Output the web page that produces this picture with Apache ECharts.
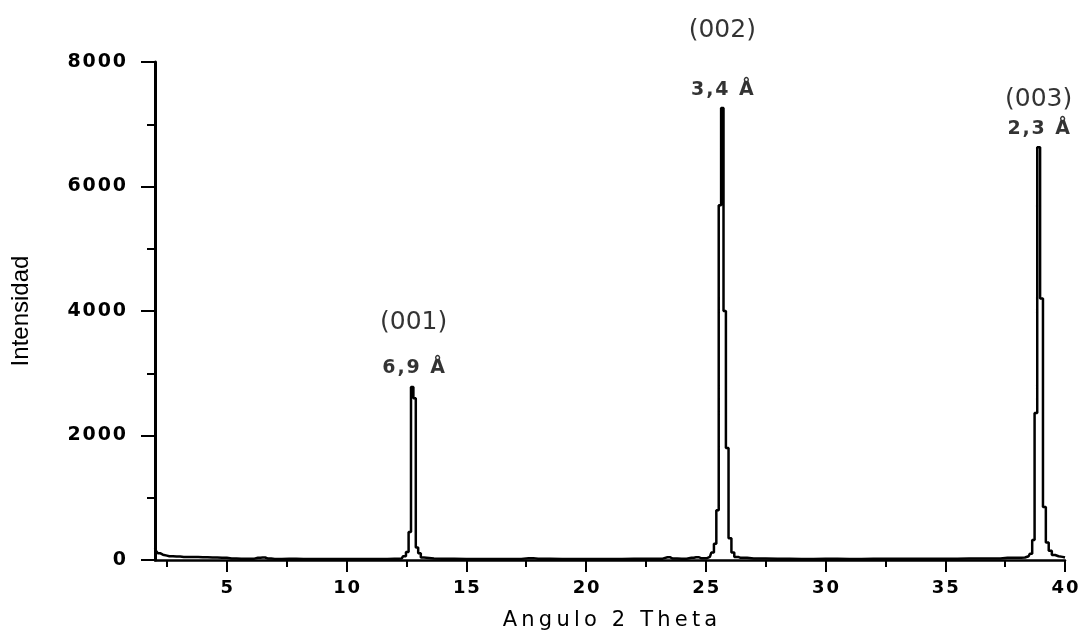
<!DOCTYPE html>
<html>
<head>
    <meta charset="utf-8">
    <title>Difractograma</title>
    <script src="https://cdn.jsdelivr.net/npm/echarts@6/dist/echarts.min.js"></script>
    <style>
        html, body { margin: 0; padding: 0; background: #fff; }
        #main { width: 1078px; height: 635px; }
    </style>
</head>
<body>
<div id="main"></div>
<script type="text/javascript">
    var angulo = [
        2.00, 2.08, 2.16, 2.26, 2.40, 2.60, 2.90, 3.20, 3.60, 4.00, 4.40, 4.80, 5.20, 5.60, 6.00, 6.30, 6.50, 6.70, 7.00, 7.60,
        8.20, 9.00, 9.80, 10.60, 11.40, 12.00, 12.30, 12.42, 12.54, 12.64, 12.74, 12.84, 12.94, 13.04, 13.16, 13.30,
        14.00, 15.00, 16.00, 17.00, 17.60, 18.00, 19.00, 20.00, 21.00, 22.00, 23.00, 23.40, 23.60, 24.00, 24.40, 24.60,
        24.80, 25.05, 25.17, 25.29, 25.39, 25.49, 25.59, 25.69, 25.79, 25.89, 26.01, 26.13, 26.25, 26.45, 27.00, 28.00,
        29.00, 30.00, 31.00, 32.00, 33.00, 34.00, 35.00, 36.00, 37.00, 37.60, 38.00, 38.33, 38.48, 38.58, 38.68, 38.78,
        38.90, 39.02, 39.14, 39.26, 39.38, 39.52, 39.66, 39.80, 40.00
    ];
    var intensidad = [
        200, 150, 110, 85, 70, 60, 55, 50, 48, 45, 40, 35, 25, 20, 22, 35, 40, 25, 18, 20,
        18, 15, 18, 15, 18, 20, 25, 60, 130, 450, 2780, 2600, 200, 110, 40, 25,
        20, 18, 15, 18, 30, 20, 15, 18, 18, 20, 22, 45, 25, 20, 35, 45,
        30, 30, 50, 120, 260, 800, 5700, 7260, 4000, 1800, 350, 120, 50, 35, 25, 20,
        18, 20, 18, 20, 22, 20, 22, 25, 25, 35, 35, 40, 60, 100, 320, 2360,
        6630, 4200, 850, 280, 150, 80, 60, 50, 40
    ];

    // reflexiones basales
    var picoAngulo = [12.8, 25.69, 38.9];
    var picoAltura = [2780, 7260, 6630];
    var hklY = [3820, 8510, 7400];
    var indices = ['(001)', '(002)', '(003)'];
    var espaciado = ['6,9 Å', '3,4 Å', '2,3 Å'];

    var ticksX = [5, 10, 15, 20, 25, 30, 35, 40];
    var ticksMenoresX = [2.5, 7.5, 12.5, 17.5, 22.5, 27.5, 32.5, 37.5];

    function espaciar(s, sep) {
        return String(s).split('').join(sep || '\u200A');
    }

    var myChart = echarts.init(document.getElementById('main'));

    var option = {
        animation: false,
        backgroundColor: '#fff',
        grid: {
            left: 155,
            right: 13,
            top: 62,
            bottom: 75,
            outerBoundsMode: 'none'
        },
        xAxis: [{
            type: 'value',
            min: 2,
            max: 40,
            name: espaciar('Angulo 2 Theta', '\u2009'),
            nameLocation: 'middle',
            nameGap: 50,
            nameTextStyle: { fontFamily: 'DejaVu Sans', fontSize: 21, color: '#000' },
            splitLine: { show: false },
            axisLine: { lineStyle: { color: '#000', width: 2.5 } },
            axisTick: { customValues: ticksX, length: 12, lineStyle: { color: '#000', width: 2 } },
            axisLabel: {
                customValues: ticksX,
                margin: 19,
                fontFamily: 'DejaVu Sans',
                fontWeight: 'bold',
                fontSize: 18,
                color: '#000',
                formatter: function (v) { return espaciar(v); }
            }
        }, {
            type: 'value',
            min: 2,
            max: 40,
            position: 'bottom',
            splitLine: { show: false },
            axisLine: { show: false },
            axisTick: { customValues: ticksMenoresX, length: 7, lineStyle: { color: '#000', width: 2 } },
            axisLabel: { show: false }
        }],
        yAxis: {
            type: 'value',
            min: 0,
            max: 8000,
            interval: 2000,
            name: 'Intensidad',
            nameLocation: 'middle',
            nameGap: 122,
            nameTextStyle: { fontFamily: 'Liberation Sans Narrow, Liberation Sans', fontSize: 24, color: '#000' },
            splitLine: { show: false },
            axisLine: { show: true, lineStyle: { color: '#000', width: 3 } },
            axisTick: { show: true, length: 14, lineStyle: { color: '#000', width: 2 } },
            minorTick: { show: true, splitNumber: 2, length: 8, lineStyle: { color: '#000', width: 2 } },
            axisLabel: {
                margin: 29,
                fontFamily: 'DejaVu Sans',
                fontWeight: 'bold',
                fontSize: 19,
                color: '#000',
                formatter: function (v) { return espaciar(v); }
            }
        },
        series: [{
            name: 'DRX',
            type: 'line',
            step: 'middle',
            showSymbol: false,
            data: angulo.map(function (a, i) { return [a, intensidad[i]]; }),
            lineStyle: { color: '#000', width: 2.5 }
        }, {
            name: 'espaciado',
            type: 'scatter',
            symbolSize: 0,
            clip: false,
            silent: true,
            data: picoAngulo.map(function (a, i) { return [a, picoAltura[i], espaciado[i]]; }),
            label: {
                show: true,
                position: 'top',
                distance: 9,
                fontFamily: 'DejaVu Sans',
                fontWeight: 'bold',
                fontSize: 19,
                color: '#000',
                formatter: function (p) { return espaciar(p.value[2]); }
            }
        }, {
            name: 'indices',
            type: 'scatter',
            symbolSize: 0,
            clip: false,
            silent: true,
            data: picoAngulo.map(function (a, i) { return [a, hklY[i], indices[i]]; }),
            label: {
                show: true,
                position: 'inside',
                fontFamily: 'DejaVu Sans',
                fontSize: 25,
                color: '#000',
                formatter: function (p) { return p.value[2]; }
            }
        }]
    };
    myChart.setOption(option);
</script>
</body>
</html>
